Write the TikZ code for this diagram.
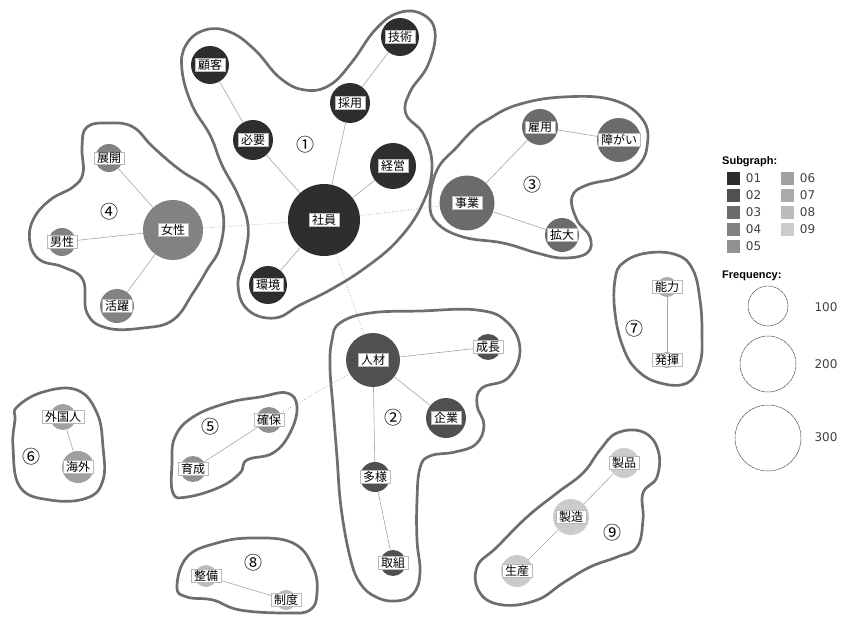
\documentclass[tikz,border=0pt]{standalone}
\usepackage{fontspec}
\setmainfont{DejaVu Sans}
\newfontfamily\jpfont{Noto Sans CJK JP}
\newfontfamily\headfont{Liberation Sans}
\usetikzlibrary{positioning}

\definecolor{sg01}{HTML}{2E2E2E}
\definecolor{sg02}{HTML}{505050}
\definecolor{sg03}{HTML}{6B6B6B}
\definecolor{sg04}{HTML}{828282}
\definecolor{sg05}{HTML}{919191}
\definecolor{sg06}{HTML}{A0A0A0}
\definecolor{sg07}{HTML}{ABABAB}
\definecolor{sg08}{HTML}{BBBBBB}
\definecolor{sg09}{HTML}{CBCBCB}
\definecolor{hullgray}{HTML}{6E6E6E}

\pgfdeclarelayer{bg}
\pgfsetlayers{bg,main}

% word circle + white label box on top
\newcommand{\wordnode}[6]{%
  \node[word, fill=#5, minimum size=#4pt] (#1) at (#2,#3) {};
  \node[lbl] (#1-l) at (#1) {#6};
}

\begin{document}
\begin{tikzpicture}[x=1pt, y=-1pt]

  \tikzstyle{word}  = [circle, inner sep=0pt, draw=none]
  \tikzstyle{lbl}   = [fill=white, draw=gray!55, line width=0.3pt, inner xsep=3pt, inner ysep=1pt,
                       font=\jpfont\fontsize{12}{12}\selectfont]
  \tikzstyle{link}  = [gray!70, line width=0.6pt]
  \tikzstyle{xlink} = [gray!75, dotted, line width=0.7pt]
  \tikzstyle{hull}  = [draw=hullgray, line width=2.7pt, line join=round]
  \tikzstyle{num}   = [font=\jpfont\fontsize{18}{18}\selectfont]
  \tikzstyle{sq}    = [minimum size=13pt, inner sep=0pt]
  \tikzstyle{legtxt}= [font=\fontsize{12}{12}\selectfont, text=black!75, inner sep=0pt]
  \tikzstyle{freq}  = [circle, draw=black!70, line width=0.5pt, dash pattern=on 4pt off 0.6pt, inner sep=0pt]

  \useasboundingbox (0,0) rectangle (841,618);

  % ---- SUBGRAPH OUTLINES ----
  \draw[hull] plot[smooth cycle, tension=0.7] coordinates {
    (182,70) (186,45) (205,30) (230,32) (255,50) (280,78) (305,90) (330,85) (352,62)
    (375,30) (398,13) (422,14) (435,32) (428,65) (410,92) (406,114) (424,135) (432,168)
    (422,205) (398,240) (365,268) (330,290) (300,305) (275,318) (248,310) (238,285)
    (245,255) (248,225) (238,195) (222,165) (210,135) (192,105)};
  \draw[hull] plot[smooth cycle, tension=0.7] coordinates {
    (332,340) (340,323) (370,313) (420,311) (477,310) (507,322) (520,350) (508,378)
    (482,388) (477,405) (484,425) (476,444) (455,452) (430,456) (420,468) (417,500)
    (417,540) (420,573) (413,594) (396,601) (376,597) (360,583) (350,557) (341,507)
    (337,457) (333,407) (330,367)};
  \draw[hull] plot[smooth cycle, tension=0.7] coordinates {
    (437,170) (457,147) (473,130) (487,120) (517,105) (563,97) (613,100) (643,120)
    (647,147) (637,167) (617,178) (587,185) (572,197) (577,220) (590,237) (587,253)
    (563,258) (537,253) (503,243) (463,237) (437,223) (430,203)};
  \draw[hull] plot[smooth cycle, tension=0.7] coordinates {
    (82,147) (87,127) (110,123) (133,127) (153,147) (180,170) (210,190) (223,213)
    (220,247) (207,270) (193,293) (173,320) (143,328) (107,328) (87,313) (83,280)
    (63,267) (40,260) (30,243) (33,220) (50,200) (73,187) (83,173)};
  \draw[hull] plot[smooth cycle, tension=0.7] coordinates {
    (172,463) (175,437) (193,417) (227,403) (260,397) (287,393) (297,407) (290,433)
    (273,453) (247,460) (240,473) (220,487) (187,497) (173,493)};
  \draw[hull] plot[smooth cycle, tension=0.7] coordinates {
    (17,407) (43,392) (77,390) (97,413) (103,447) (103,480) (87,498) (50,500)
    (20,487) (13,447) (15,420)};
  \draw[hull] plot[smooth cycle, tension=0.7] coordinates {
    (623,263) (647,253) (677,255) (693,270) (700,300) (702,333) (700,363) (687,383)
    (660,383) (637,370) (623,347) (615,313) (615,280)};
  \draw[hull] plot[smooth cycle, tension=0.7] coordinates {
    (177,587) (187,557) (217,543) (253,538) (293,543) (313,567) (317,593) (310,610)
    (287,613) (240,610) (213,600) (187,597)};
  \draw[hull] plot[smooth cycle, tension=0.7] coordinates {
    (617,433) (643,432) (658,450) (657,477) (643,493) (643,520) (637,547) (617,557)
    (590,567) (563,583) (537,600) (503,605) (480,593) (477,567) (497,547) (527,517)
    (557,493) (583,473) (600,450)};

  % ---- WORDS ----
  % subgraph 01
  \wordnode{shain}{324}{220}{72}{sg01}{社員}
  \wordnode{kokyaku}{210}{65}{38}{sg01}{顧客}
  \wordnode{hitsuyou}{253}{140}{40}{sg01}{必要}
  \wordnode{saiyou}{350}{103}{40}{sg01}{採用}
  \wordnode{gijutsu}{400}{37}{38}{sg01}{技術}
  \wordnode{keiei}{393}{166}{46}{sg01}{経営}
  \wordnode{kankyou}{268}{285}{38}{sg01}{環境}
  % subgraph 02
  \wordnode{jinzai}{373}{360}{54}{sg02}{人材}
  \wordnode{seichou}{488}{347}{26}{sg02}{成長}
  \wordnode{kigyou}{446}{418}{40}{sg02}{企業}
  \wordnode{tayou}{375}{477}{30}{sg02}{多様}
  \wordnode{torikumi}{393}{563}{26}{sg02}{取組}
  % subgraph 03
  \wordnode{jigyou}{467}{203}{55}{sg03}{事業}
  \wordnode{koyou}{540}{127}{36}{sg03}{雇用}
  \wordnode{shougai}{619}{140}{44}{sg03}{障がい}
  \wordnode{kakudai}{562}{235}{34}{sg03}{拡大}
  % subgraph 04
  \wordnode{josei}{173}{230}{60}{sg04}{女性}
  \wordnode{tenkai}{109}{158}{28}{sg04}{展開}
  \wordnode{dansei}{62}{242}{28}{sg04}{男性}
  \wordnode{katsuyaku}{117}{306}{34}{sg04}{活躍}
  % subgraph 05
  \wordnode{kakuho}{269}{420}{26}{sg05}{確保}
  \wordnode{ikusei}{193}{469}{26}{sg05}{育成}
  % subgraph 06
  \wordnode{gaikoku}{63}{417}{26}{sg06}{外国人}
  \wordnode{kaigai}{78}{467}{32}{sg06}{海外}
  % subgraph 07
  \wordnode{nouryoku}{667}{287}{20}{sg07}{能力}
  \wordnode{hakki}{667}{360}{16}{sg07}{発揮}
  % subgraph 08
  \wordnode{seibi}{206}{576}{22}{sg08}{整備}
  \wordnode{seido}{286}{600}{20}{sg08}{制度}
  % subgraph 09
  \wordnode{seihin}{624}{463}{30}{sg09}{製品}
  \wordnode{seizou}{571}{517}{36}{sg09}{製造}
  \wordnode{seisan}{517}{571}{32}{sg09}{生産}

  % ---- LINKS ----
  \begin{pgfonlayer}{bg}
    \draw[link] (kokyaku) -- (hitsuyou);
    \draw[link] (hitsuyou) -- (shain);
    \draw[link] (saiyou) -- (shain);
    \draw[link] (saiyou) -- (gijutsu);
    \draw[link] (keiei) -- (shain);
    \draw[link] (kankyou) -- (shain);
    \draw[link] (jinzai) -- (seichou);
    \draw[link] (jinzai) -- (kigyou);
    \draw[link] (jinzai) -- (tayou);
    \draw[link] (tayou) -- (torikumi);
    \draw[link] (jigyou) -- (koyou);
    \draw[link] (koyou) -- (shougai);
    \draw[link] (jigyou) -- (kakudai);
    \draw[link] (josei) -- (tenkai);
    \draw[link] (josei) -- (dansei);
    \draw[link] (josei) -- (katsuyaku);
    \draw[link] (kakuho) -- (ikusei);
    \draw[link] (gaikoku) -- (kaigai);
    \draw[link] (nouryoku) -- (hakki);
    \draw[link] (seibi) -- (seido);
    \draw[link] (seihin) -- (seizou);
    \draw[link] (seizou) -- (seisan);
    % between subgraphs
    \draw[xlink] (josei) -- (shain);
    \draw[xlink] (shain) -- (jigyou);
    \draw[xlink] (shain) -- (jinzai);
    \draw[xlink] (jinzai) -- (kakuho);
  \end{pgfonlayer}

  % ---- SUBGRAPH NUMBERS ----
  \node[num] (n1) at (305,145) {①};
  \node[num] (n2) at (393,418) {②};
  \node[num] (n3) at (532,185) {③};
  \node[num] (n4) at (109,212) {④};
  \node[num] (n5) at (210,427) {⑤};
  \node[num] (n6) at (32,457) {⑥};
  \node[num] (n7) at (634,329) {⑦};
  \node[num] (n8) at (253,563) {⑧};
  \node[num] (n9) at (612,533) {⑨};

  % ---- LEGEND ----
  \node[anchor=west, inner sep=0pt, font=\headfont\bfseries\fontsize{11}{11}\selectfont] (subhead) at (722,162) {Subgraph:};
  \foreach \i in {1,...,5}{
    \node[sq, fill=sg0\i] (sq\i) at (733,{161+17*\i}) {};
    \node[legtxt, right=6pt of sq\i] (leg\i) {0\i};
  }
  \foreach \i in {6,...,9}{
    \node[sq, fill=sg0\i] (sq\i) at (787,{161+17*(\i-5)}) {};
    \node[legtxt, right=6pt of sq\i] (leg\i) {0\i};
  }
  \node[anchor=west, inner sep=0pt, font=\headfont\bfseries\fontsize{11}{11}\selectfont] (freqhead) at (722,276) {Frequency:};
  \node[freq, minimum size=40pt] (fa) at (768,306) {};
  \node[freq, minimum size=56pt] (fb) at (768,364) {};
  \node[freq, minimum size=66pt] (fc) at (768,438) {};
  \node[legtxt] (fal) at (826,307) {100};
  \node[legtxt] (fbl) at (826,364) {200};
  \node[legtxt] (fcl) at (826,437) {300};

\end{tikzpicture}
\end{document}
